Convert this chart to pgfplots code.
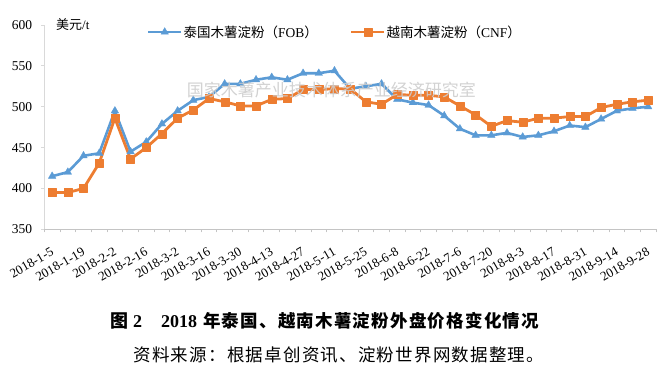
\documentclass[border=0pt]{standalone}
\usepackage{fontspec}
\setmainfont{Liberation Serif}
\newfontfamily\cjk{Noto Sans CJK SC}
\newfontfamily\cjkwide{Noto Sans CJK SC}[LetterSpace=7]
\usepackage{pgfplots}
\pgfplotsset{compat=1.18}
\usepackage{pgfplotstable}
\definecolor{sblue}{HTML}{5B9BD5}
\definecolor{sorange}{HTML}{ED7D31}
\definecolor{ygray}{HTML}{D9D9D9}
\definecolor{xgray}{HTML}{C4C4C4}
\definecolor{wm}{HTML}{CDCDCD}

\pgfplotstableread{
x thai viet
0 415 395
1 420 395
2 440 400
3 443 431
4 495 486
5 445 436
6 457 450
7 479 467
8 495 486
9 508 496
10 512 510
11 528 506
12 528 501
13 533 501
14 536 509
15 533 510
16 541 521
17 541 521
18 544 522
19 522 522
20 525 506
21 528 503
22 509 515
23 505 514
24 502 514
25 489 512
26 473 501
27 465 490
28 465 476
29 468 483
30 463 481
31 465 486
32 470 486
33 477 488
34 475 488
35 485 499
36 495 503
37 498 506
38 500 508
}\prices

\begin{document}
\begin{tikzpicture}[x=1pt,y=1pt]
\path[use as bounding box] (0,0) rectangle (669,376);
\begin{axis}[
  at={(44.3pt,146.7pt)}, anchor=south west,
  width=611.7pt, height=204.3pt, scale only axis,
  xmin=-0.5, xmax=38.5, ymin=350, ymax=600,
  axis x line=bottom, axis y line=left,
  x axis line style={-, draw=xgray, line width=0.9pt},
  y axis line style={-, draw=ygray, line width=0.9pt},
  tick align=outside,
  major tick length=3pt, minor tick length=3pt,
  xtick={0,2,...,38},
  xticklabels={2018-1-5,2018-1-19,2018-2-2,2018-2-16,2018-3-2,2018-3-16,2018-3-30,2018-4-13,2018-4-27,2018-5-11,2018-5-25,2018-6-8,2018-6-22,2018-7-6,2018-7-20,2018-8-3,2018-8-17,2018-8-31,2018-9-14,2018-9-28},
  minor xtick={-0.5,0.5,...,38.5},
  major x tick style={draw=none},
  minor x tick style={draw=xgray, line width=0.8pt},
  ytick={350,400,...,600},
  ytick style={draw=ygray, line width=0.8pt},
  /pgf/number format/assume math mode=true,
  yticklabel style={anchor=east, inner sep=0pt, xshift=-9pt, font=\fontsize{13.5}{15}\selectfont},
  xticklabel style={xshift=-2pt, yshift=-14.5pt, rotate=30, anchor=north east, inner sep=0pt, font=\fontsize{13}{15}\selectfont},
  legend columns=2,
  legend style={at={(0.1674,0.9657)}, anchor=west, draw=none, fill=none,
    inner sep=0pt, nodes={inner sep=1pt}, font=\fontsize{13.5}{15}\selectfont,
    /tikz/every even column/.append style={column sep=31pt}},
  legend cell align=left,
  legend image code/.code={\draw[mark repeat=2,mark phase=2,#1] plot coordinates {(0pt,0pt) (16.5pt,0pt) (33pt,0pt)};},
]
\addplot[sblue, line width=2.6pt, line join=round, mark=triangle*, mark size=4.4pt, mark options={line width=0.3pt}]
  table[x=x, y=thai] {\prices};
\addlegendentry{{\cjk 泰国木薯淀粉（}FOB{\cjk ）}}
\addplot[sorange, line width=2.8pt, line join=round, mark=square*, mark size=4pt, mark options={line width=0.3pt}]
  table[x=x, y=viet] {\prices};
\addlegendentry{{\cjk 越南木薯淀粉（}CNF{\cjk ）}}
\end{axis}
\node[anchor=west, inner sep=0pt, text=wm, opacity=0.9, font=\cjk\fontsize{17}{19}\selectfont] at (186.7,286) {国家木薯产业技术体系产业经济研究室};
\node[anchor=west, inner sep=0pt, font=\fontsize{13}{15}\selectfont] at (56,351) {{\cjk 美元}/t};
\node[anchor=west, inner sep=0pt] at (110,55.5) {\fontsize{18}{20}\selectfont\bfseries{\cjk 图}\hspace{5pt}2\hspace{19pt}2018\hspace{6pt}{\cjkwide\fontsize{17.5}{20}\selectfont\bfseries 年泰国、越南木薯淀粉外盘价格变化情况}};
\node[anchor=west, inner sep=0pt] at (133.3,21) {\cjkwide\fontsize{17.5}{20}\selectfont 资料来源：根据卓创资讯、淀粉世界网数据整理。};
\end{tikzpicture}
\end{document}
